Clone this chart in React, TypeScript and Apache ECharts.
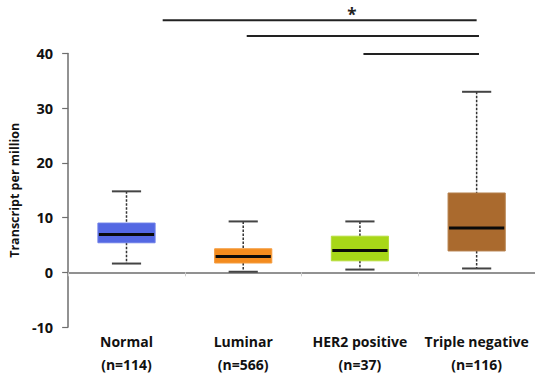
import React, { useEffect, useRef } from "react";
import * as echarts from "echarts";

const categories = ["Normal\n(n=114)", "Luminar\n(n=566)", "HER2 positive\n(n=37)", "Triple negative\n(n=116)"];
// [whiskerLow, q1, median, q3, whiskerHigh]
const boxValues = [
  [1.6, 5.4, 6.9, 9.0, 14.8],
  [0.1, 1.7, 2.9, 4.3, 9.3],
  [0.5, 2.1, 4.0, 6.6, 9.3],
  [0.7, 3.9, 8.1, 14.5, 33.0],
];
const boxColors = ["#5468E3", "#F38B1E", "#A8D718", "#AA6A2E"];
const yTicks = { min: -10, max: 40, interval: 10 };
// significance brackets: [startCategory, endCategory, value]
const brackets = [
  [0.31, 3.0, 46.1],
  [1.03, 3.02, 43.2],
  [2.03, 3.02, 39.9],
];
const starMark = [1.93, 46.1, "*"];

export default function App() {
  const ref = useRef<HTMLDivElement>(null);
  useEffect(() => {
    const chart = echarts.init(ref.current!, null, { renderer: "svg" });
    const font = "'Open Sans', sans-serif";
    chart.setOption({
      animation: false,
      backgroundColor: "#ffffff",
      grid: { left: 67, right: 0, top: 53.5, bottom: 52 },
      xAxis: {
        type: "category",
        data: categories,
        axisLine: { show: true, lineStyle: { color: "#6e6e6e", width: 1.5 } },
        axisTick: { show: true, alignWithLabel: false, length: 4, lineStyle: { color: "#cccccc" } },
        axisLabel: {
          color: "#111",
          fontFamily: font,
          fontWeight: "bold",
          fontSize: 14,
          lineHeight: 23,
          margin: 3,
          interval: 0,
        },
        splitLine: { show: false },
      },
      yAxis: {
        type: "value",
        min: yTicks.min,
        max: yTicks.max,
        interval: yTicks.interval,
        name: "Transcript per million",
        nameLocation: "middle",
        nameGap: 46,
        nameTextStyle: { color: "#111", fontFamily: font, fontWeight: "bold", fontSize: 12.5 },
        axisLine: { show: true, lineStyle: { color: "#6e6e6e", width: 1.5 } },
        axisTick: { show: true, length: 6, lineStyle: { color: "#6e6e6e", width: 1.2 } },
        axisLabel: { color: "#111", fontFamily: font, fontWeight: "bold", fontSize: 14.5, margin: 15 },
        splitLine: { show: false },
      },
      series: [
        {
          type: "custom",
          data: boxValues.map((v, i) => [i, ...v]),
          encode: { x: 0, y: [1, 2, 3, 4, 5] },
          renderItem: (params: any, api: any) => {
            const idx = api.value(0);
            const band = api.size([1, 0])[0];
            const cx = api.coord([idx, 0])[0];
            const yLo = api.coord([idx, api.value(1)])[1];
            const yQ1 = api.coord([idx, api.value(2)])[1];
            const yMed = api.coord([idx, api.value(3)])[1];
            const yQ3 = api.coord([idx, api.value(4)])[1];
            const yHi = api.coord([idx, api.value(5)])[1];
            const bw = band * 0.49;
            const cw = band * 0.25;
            const color = boxColors[params.dataIndex];
            const dash = { stroke: "#333", lineWidth: 1.5, lineDash: [2.5, 1.5] };
            const cap = { stroke: "#444", lineWidth: 2 };
            return {
              type: "group",
              children: [
                { type: "line", shape: { x1: cx, y1: yHi, x2: cx, y2: yQ3 }, style: dash },
                { type: "line", shape: { x1: cx, y1: yQ1, x2: cx, y2: yLo }, style: dash },
                { type: "line", shape: { x1: cx - cw / 2, y1: yHi, x2: cx + cw / 2, y2: yHi }, style: cap },
                { type: "line", shape: { x1: cx - cw / 2, y1: yLo, x2: cx + cw / 2, y2: yLo }, style: cap },
                {
                  type: "rect",
                  shape: { x: cx - bw / 2, y: yQ3, width: bw, height: yQ1 - yQ3 },
                  style: { fill: color, stroke: echarts.color.lift(color, 0.15), lineWidth: 1 },
                },
                {
                  type: "line",
                  shape: { x1: cx - bw / 2 + 1, y1: yMed, x2: cx + bw / 2 - 1, y2: yMed },
                  style: { stroke: "#0a0a0a", lineWidth: 3 },
                },
              ],
            };
          },
          z: 2,
        },
        {
          type: "custom",
          clip: false,
          data: brackets,
          renderItem: (params: any, api: any) => {
            const band = api.size([1, 0])[0];
            const x0c = api.coord([0, 0])[0];
            const x1 = x0c + api.value(0) * band;
            const x2 = x0c + api.value(1) * band;
            const y = api.coord([0, api.value(2)])[1];
            return {
              type: "line",
              shape: { x1, y1: y, x2, y2: y },
              style: { stroke: "#222", lineWidth: 2 },
            };
          },
          z: 3,
        },
        {
          type: "custom",
          clip: false,
          data: [starMark],
          renderItem: (params: any, api: any) => {
            const band = api.size([1, 0])[0];
            const x0c = api.coord([0, 0])[0];
            const x = x0c + api.value(0) * band;
            const y = api.coord([0, api.value(1)])[1];
            return {
              type: "text",
              x,
              y: y + 3,
              style: {
                text: "*",
                fill: "#222",
                fontSize: 17,
                fontWeight: "bold",
                fontFamily: font,
                align: "center",
                verticalAlign: "bottom",
              },
            };
          },
          z: 3,
        },
      ],
    });
    return () => chart.dispose();
  }, []);
  return (
    <div
      ref={ref}
      style={{ position: "absolute", left: 0, top: 0, width: 535, height: 379 }}
    />
  );
}
